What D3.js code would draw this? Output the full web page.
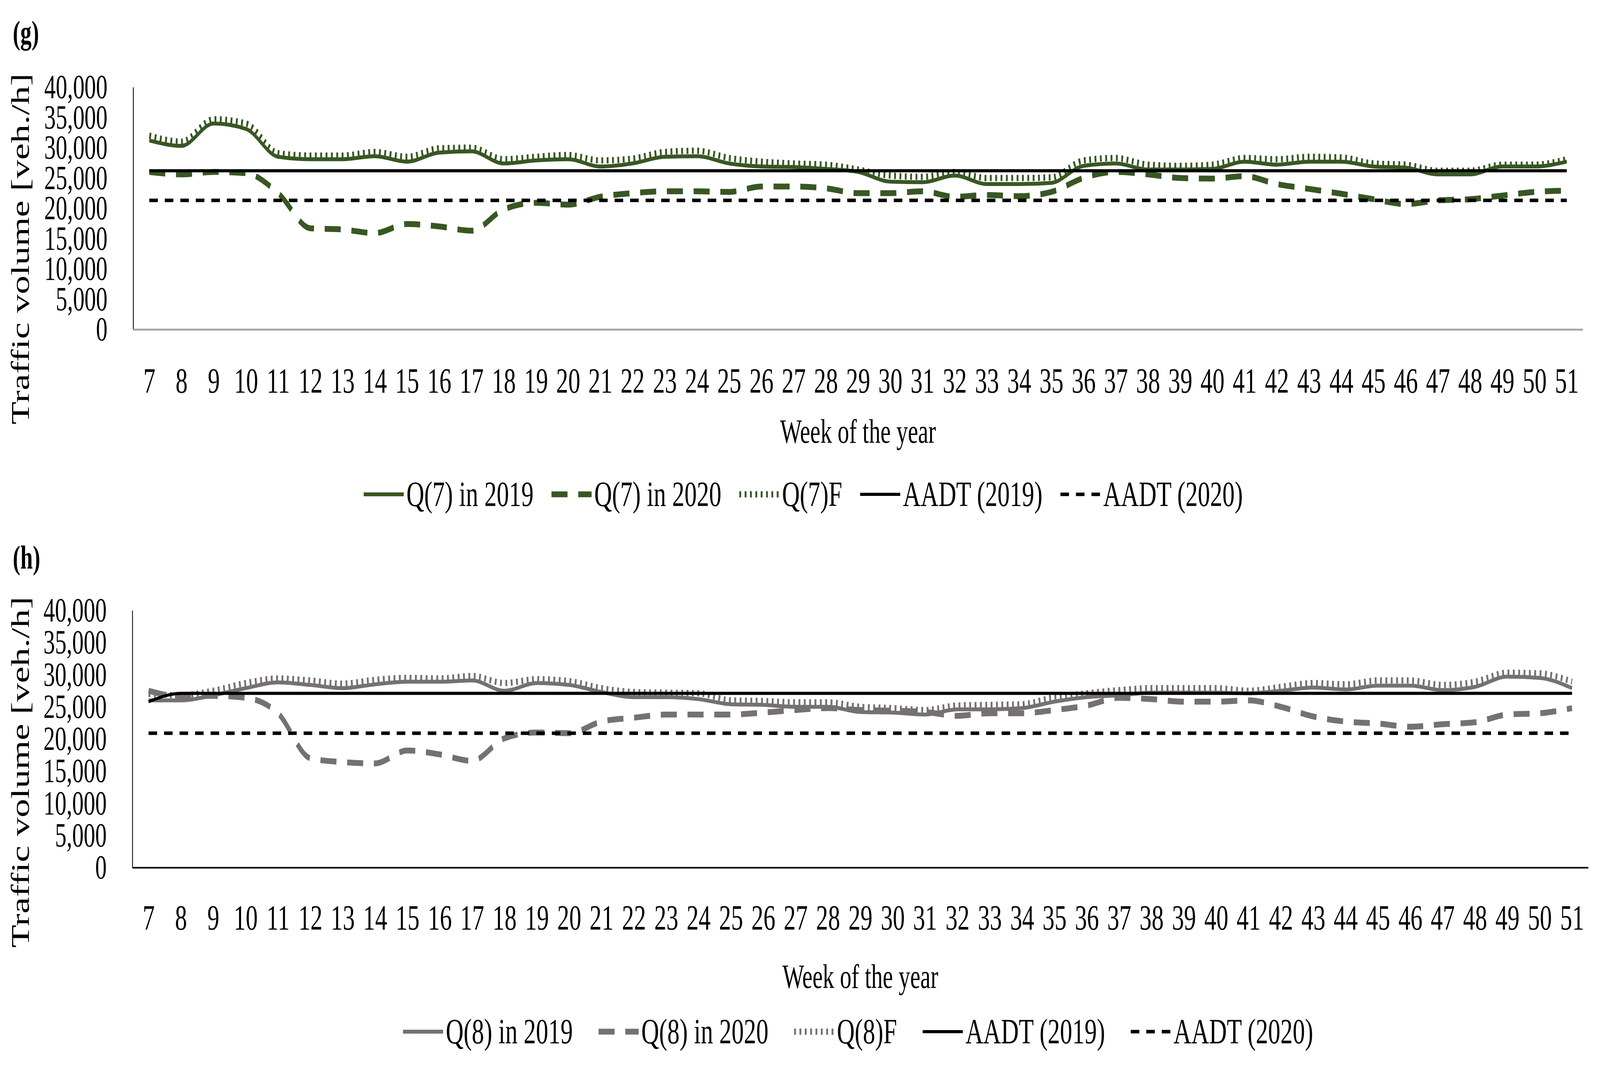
<!DOCTYPE html>
<html><head><meta charset="utf-8">
<script src="https://cdn.jsdelivr.net/npm/d3@7"></script>
<style>html,body{margin:0;padding:0;background:#fff;overflow:hidden;} svg{display:block;}</style>
</head><body>
<svg id="chart" viewBox="0 0 5983 2733" preserveAspectRatio="none" style="width:100vw;height:100vh"></svg>
<script>
// ---------------- DATA ----------------
const weeks = [7,8,9,10,11,12,13,14,15,16,17,18,19,20,21,22,23,24,25,26,27,28,29,30,31,32,33,34,35,36,37,38,39,40,41,42,43,44,45,46,47,48,49,50,51];
const yTickValues = [0,5000,10000,15000,20000,25000,30000,35000,40000];

// panel (g)
const q7_2019 = [31200,30300,34000,33100,28500,28100,28100,28600,27700,29200,29400,27400,27900,
  28100,26900,27400,28500,28600,27400,26900,26800,26500,26000,24400,24300,25400,24000,24000,24200,
  27000,27400,26400,26400,26500,27700,27200,27700,27700,26900,26700,25600,25600,26900,26900,27700];
const q7_2020 = [26000,25600,26000,25800,22500,16700,16500,15900,17400,17000,16300,19800,20900,
  20600,21900,22500,22800,22800,22700,23600,23600,23300,22500,22500,22800,21900,22200,22000,22700,
  25000,26000,25600,25000,24900,25300,24000,23200,22400,21500,20700,21300,21500,22100,22700,22900];
const q7F = [32000,31000,34700,34000,29100,28700,28700,29300,28500,29900,30000,28100,28500,
  28800,27900,28200,29300,29500,28300,27700,27400,27200,26400,25400,25200,26000,25000,25000,25100,
  27900,28300,27200,27000,27200,28300,28100,28500,28400,27400,27200,26200,26200,27200,27200,28100];
const aadt7_2019 = [26200,26200,26200,26200,26200,26200,26200,26200,26200,26200,26200,26200,26200,
  26200,26200,26200,26200,26200,26200,26200,26200,26200,26200,26200,26200,26200,26200,26200,26200,
  26200,26200,26200,26200,26200,26200,26200,26200,26200,26200,26200,26200,26200,26200,26200,26200];
const aadt7_2020 = [21300,21300,21300,21300,21300,21300,21300,21300,21300,21300,21300,21300,21300,
  21300,21300,21300,21300,21300,21300,21300,21300,21300,21300,21300,21300,21300,21300,21300,21300,
  21300,21300,21300,21300,21300,21300,21300,21300,21300,21300,21300,21300,21300,21300,21300,21300];

// panel (h)
const q8_2019 = [26000,26000,26800,27900,28800,28400,27900,28500,28900,28900,29100,27500,28700,
  28400,27300,26500,26500,26200,25400,25300,25000,25000,24200,24100,23800,24600,24600,24800,25800,
  26500,26800,27200,27200,27200,27100,27500,28000,27700,28300,28300,27600,28100,29700,29500,27900];
const q8_2020 = [27500,26600,26700,26400,24000,17000,16400,16200,18200,17600,16600,20100,21000,
  20900,22700,23300,23800,23800,23800,24100,24500,24800,24500,24400,24200,23600,24000,24000,24500,
  25200,26400,26200,25800,25800,26000,25000,23500,22700,22400,21900,22300,22600,23800,24000,24800];
const q8F = [27000,26800,27500,28700,29400,29100,28600,29200,29500,29400,29800,28700,29300,
  29000,27900,27300,27200,27100,26000,25900,25700,25700,25000,24800,24500,25200,25300,25400,26500,
  27100,27600,27900,27900,27900,27500,28100,28700,28500,29100,29100,28400,28900,30300,30200,28900];
const aadt8_2019 = [25800,27100,27100,27100,27100,27100,27100,27100,27100,27100,27100,27100,27100,
  27100,27100,27100,27100,27100,27100,27100,27100,27100,27100,27100,27100,27100,27100,27100,27100,
  27100,27100,27100,27100,27100,27100,27100,27100,27100,27100,27100,27100,27100,27100,27100,27100];
const aadt8_2020 = [20900,20900,20900,20900,20900,20900,20900,20900,20900,20900,20900,20900,20900,
  20900,20900,20900,20900,20900,20900,20900,20900,20900,20900,20900,20900,20900,20900,20900,20900,
  20900,20900,20900,20900,20900,20900,20900,20900,20900,20900,20900,20900,20900,20900,20900,20900];

const namesG = ["Q(7) in 2019","Q(7) in 2020","Q(7)F","AADT (2019)","AADT (2020)"];
const namesH = ["Q(8) in 2019","Q(8) in 2020","Q(8)F","AADT (2019)","AADT (2020)"];
const xTitle = "Week of the year";
const yTitle = "Traffic volume [veh./h]";

// ---------------- STYLE / LAYOUT ----------------
const FONT = "'Liberation Serif', 'Times New Roman', serif";
const svg = d3.select("#chart");

function styles(color) {
  return [
    {stroke: color, width: 10, dash: null},
    {stroke: color, width: 15, dash: "60,40"},
    {stroke: color, width: 16, dash: "7,13"},
    {stroke: "#000", width: 8, dash: null},
    {stroke: "#000", width: 9, dash: "32,26"}
  ];
}

const panels = [
  {label: "(g)", labelX: 48, labelY: 112, x0: 498, x1: 5919, yTop: 223, yBot: 843,
   axisColor: "#a6a6a6", axisW: 5, tickY: 975, titleY: 1105, yTitleCY: 637,
   legendY: 1265, legendX: 1360, legendGap: 67, names: namesG,
   series: [q7_2019, q7_2020, q7F, aadt7_2019, aadt7_2020], color: "#385723"},
  {label: "(h)", labelX: 48, labelY: 1455, x0: 495, x1: 5939, yTop: 1562, yBot: 2220,
   axisColor: "#000", axisW: 4, tickY: 2349, titleY: 2500, yTitleCY: 1976,
   legendY: 2640, legendX: 1507, legendGap: 96, names: namesH,
   series: [q8_2019, q8_2020, q8F, aadt8_2019, aadt8_2020], color: "#767171"}
];

panels.forEach(p => {
  const g = svg.append("g");
  const x = d3.scalePoint().domain(weeks).range([p.x0, p.x1]).padding(0.5);
  const y = d3.scaleLinear().domain([0, 40000]).range([p.yBot, p.yTop]);
  const st = styles(p.color);

  g.append("text").attr("x", p.labelX).attr("y", p.labelY)
    .attr("font-family", FONT).attr("font-weight", "bold").attr("font-size", 84)
    .attr("fill", "#000").text(p.label);

  const ya = g.append("g").attr("transform", `translate(${p.x0},0)`)
    .call(d3.axisLeft(y).tickValues(yTickValues).tickFormat(d3.format(","))
      .tickSize(0).tickSizeOuter(0).tickPadding(96));
  ya.select(".domain").attr("stroke", "#000").attr("stroke-width", 3);
  ya.selectAll("text").attr("font-family", FONT).attr("font-size", 86).attr("fill", "#000");

  const xa = g.append("g").attr("transform", `translate(0,${p.yBot})`)
    .call(d3.axisBottom(x).tickSize(0).tickSizeOuter(0).tickPadding(0));
  xa.select(".domain").attr("stroke", p.axisColor).attr("stroke-width", p.axisW);
  xa.selectAll("text").attr("font-family", FONT).attr("font-size", 90).attr("fill", "#000")
    .attr("y", p.tickY - p.yBot).attr("dy", "0.33em");

  g.append("text").attr("x", (p.x0 + p.x1) / 2).attr("y", p.titleY).attr("dy", "0.33em")
    .attr("text-anchor", "middle").attr("font-family", FONT).attr("font-size", 86)
    .attr("fill", "#000").text(xTitle);
  g.append("text").attr("transform", `translate(108,${p.yTitleCY}) rotate(-90)`)
    .attr("text-anchor", "middle").attr("font-family", FONT).attr("font-size", 96)
    .attr("fill", "#000").text(yTitle);

  const line = d3.line().x((d, i) => x(weeks[i])).y(d => y(d)).curve(d3.curveMonotoneX);
  p.series.forEach((s, i) => {
    g.append("path").datum(s).attr("d", line).attr("fill", "none")
      .attr("stroke", st[i].stroke).attr("stroke-width", st[i].width)
      .attr("stroke-dasharray", st[i].dash);
  });

  let lx = p.legendX;
  p.names.forEach((n, i) => {
    g.append("line").attr("x1", lx).attr("x2", lx + 150).attr("y1", p.legendY).attr("y2", p.legendY)
      .attr("stroke", st[i].stroke).attr("stroke-width", st[i].width)
      .attr("stroke-dasharray", st[i].dash);
    const t = g.append("text").attr("x", lx + 160).attr("y", p.legendY).attr("dy", "0.33em")
      .attr("font-family", FONT).attr("font-size", 92).attr("fill", "#000").text(n);
    lx += 160 + t.node().getComputedTextLength() + p.legendGap;
  });
});
</script>
</body></html>
